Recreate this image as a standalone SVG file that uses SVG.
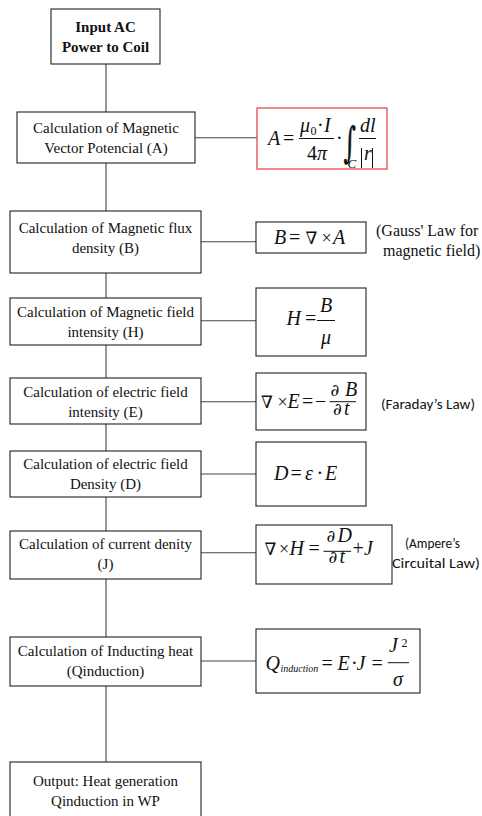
<svg xmlns="http://www.w3.org/2000/svg" width="482" height="816" viewBox="0 0 482 816">
<style>
.box{fill:#fff;stroke:#222;stroke-width:1.1}
.red{fill:#fff;stroke:#e84a4a;stroke-width:1.3}
.t{font-family:"Liberation Serif","Times New Roman",serif;font-size:15px;fill:#111;text-anchor:middle}
.tb{font-family:"Liberation Serif","Times New Roman",serif;font-size:15px;font-weight:bold;fill:#111;text-anchor:middle}
.side{font-family:"Liberation Serif","Times New Roman",serif;font-size:16px;fill:#111}
.cal{font-family:Carlito,Lato,"Open Sans",sans-serif;font-size:15px;fill:#111}
.mi{font-family:"Liberation Serif","Times New Roman",serif;font-style:italic;font-size:20px;fill:#111}
.mo{font-family:"Liberation Serif","DejaVu Serif",serif;font-size:20px;fill:#111}
.sy{font-family:"DejaVu Serif",serif;font-size:17px;fill:#111}
.sm{font-size:13px}
.fl{stroke:#111;stroke-width:1}
.c line{stroke:#444;stroke-width:1.1}
</style>

<g id="connectors" class="c">
<line x1="106" y1="64" x2="106" y2="112"/>
<line x1="106" y1="163" x2="106" y2="211"/>
<line x1="106" y1="273" x2="106" y2="298"/>
<line x1="106" y1="345" x2="106" y2="378"/>
<line x1="106" y1="424" x2="106" y2="451"/>
<line x1="106" y1="497" x2="106" y2="531"/>
<line x1="106" y1="579" x2="106" y2="637"/>
<line x1="106" y1="686" x2="106" y2="762"/>
<line x1="195" y1="137.7" x2="257" y2="137.7"/>
<line x1="201" y1="241.7" x2="256" y2="241.7"/>
<line x1="201" y1="320.7" x2="256" y2="320.7"/>
<line x1="201" y1="401.7" x2="256" y2="401.7"/>
<line x1="201" y1="474" x2="256" y2="474"/>
<line x1="201" y1="552.7" x2="256" y2="552.7"/>
<line x1="201" y1="661" x2="256" y2="661"/>
</g>

<g id="input">
<rect class="box" x="51" y="9" width="109" height="55"/>
<text class="tb" x="105.5" y="32">Input AC</text>
<text class="tb" x="105.5" y="52">Power to Coil</text>
</g>

<g id="calcA">
<rect class="box" x="17" y="112" width="178" height="51"/>
<text class="t" x="106" y="132.7">Calculation of Magnetic</text>
<text class="t" x="106" y="152.7">Vector Potencial (A)</text>
</g>

<g id="calcB">
<rect class="box" x="10" y="211" width="191" height="62"/>
<text class="t" x="105.5" y="232.7">Calculation of Magnetic flux</text>
<text class="t" x="105.5" y="252.7">density (B)</text>
</g>

<g id="calcH">
<rect class="box" x="10" y="298" width="191" height="47"/>
<text class="t" x="105.5" y="316.7">Calculation of Magnetic field</text>
<text class="t" x="105.5" y="336.7">intensity (H)</text>
</g>

<g id="calcE">
<rect class="box" x="10" y="378" width="191" height="46"/>
<text class="t" x="105.5" y="396.7">Calculation of electric field</text>
<text class="t" x="105.5" y="416.7">intensity (E)</text>
</g>

<g id="calcD">
<rect class="box" x="10" y="451" width="191" height="46"/>
<text class="t" x="105.5" y="469.3">Calculation of electric field</text>
<text class="t" x="105.5" y="489.3">Density (D)</text>
</g>

<g id="calcJ">
<rect class="box" x="10" y="531" width="191" height="48"/>
<text class="t" x="105.5" y="549">Calculation of current denity</text>
<text class="t" x="105.5" y="568.7">(J)</text>
</g>

<g id="calcQ">
<rect class="box" x="10" y="637" width="191" height="49"/>
<text class="t" x="105.5" y="656">Calculation of Inducting heat</text>
<text class="t" x="105.5" y="676">(Qinduction)</text>
</g>

<g id="output">
<rect class="box" x="10" y="762" width="191" height="60"/>
<text class="t" x="105.5" y="785.7">Output: Heat generation</text>
<text class="t" x="105.5" y="805.7">Qinduction in WP</text>
</g>

<g id="eqA">
<rect class="red" x="257" y="108" width="130" height="61"/>
<text class="mi" x="268" y="145">A</text>
<text class="mo" x="283" y="145">=</text>
<line class="fl" x1="299" y1="138.5" x2="334" y2="138.5"/>
<text class="mi" x="300" y="132">μ</text>
<text class="mo" x="310.5" y="135" style="font-size:12px">0</text>
<text class="mo" x="317" y="132">·</text>
<text class="mi" x="324" y="132">I</text>
<text class="mo" x="307" y="160">4</text>
<text class="mi" x="317" y="160">π</text>
<text class="mo" x="336" y="145">·</text>
<text class="sy" transform="translate(343.5,157) scale(0.85,1.5)" style="font-size:28px;stroke:#111;stroke-width:0.35">∫</text>
<text class="mi sm" x="347.5" y="167.5">C</text>
<text class="mi" x="360" y="132">dl</text>
<line class="fl" x1="359" y1="138.5" x2="376" y2="138.5"/>
<line class="fl" x1="361.5" y1="148" x2="361.5" y2="168"/>
<line class="fl" x1="372.5" y1="148" x2="372.5" y2="168"/>
<text class="mi" x="364" y="160">r</text>
</g>

<g id="eqB">
<rect class="box" x="256" y="222" width="110" height="31"/>
<text class="mi" x="274" y="243.5">B</text>
<text class="mo" x="289" y="243.5">=</text>
<text class="sy" x="305.5" y="243.5">∇</text>
<text class="mo" x="321.5" y="243.5" style="font-size:18px">×</text>
<text class="mi" x="333" y="243.5">A</text>
</g>
<text class="side" x="376" y="235.7">(Gauss' Law for</text>
<text class="side" x="383" y="255.7">magnetic field)</text>

<g id="eqH">
<rect class="box" x="256" y="288" width="110" height="68"/>
<text class="mi" x="286.5" y="325">H</text>
<text class="mo" x="305" y="325">=</text>
<line class="fl" x1="317" y1="320.5" x2="335" y2="320.5"/>
<text class="mi" x="320" y="311.5">B</text>
<text class="mi" x="321" y="344">μ</text>
</g>

<g id="eqE">
<rect class="box" x="256" y="373" width="110" height="57"/>
<text class="sy" x="261" y="408">∇</text>
<text class="mo" x="277.5" y="408" style="font-size:18px">×</text>
<text class="mi" x="287.5" y="408">E</text>
<text class="mo" x="302" y="408">=</text>
<text class="mo" x="315" y="408">−</text>
<line class="fl" x1="329.5" y1="401.7" x2="356" y2="401.7"/>
<text class="sy" x="330.5" y="395.5">∂</text>
<text class="mi" x="345" y="395.5">B</text>
<text class="sy" x="333" y="415">∂</text>
<text class="mi" x="344" y="415">t</text>
</g>
<text class="cal" x="381" y="408.5" textLength="94" lengthAdjust="spacingAndGlyphs">(Faraday’s Law)</text>

<g id="eqD">
<rect class="box" x="256" y="442" width="110" height="64"/>
<text class="mi" x="274" y="480">D</text>
<text class="mo" x="290.5" y="480">=</text>
<text class="mi" x="305" y="480">ε</text>
<text class="mo" x="316.5" y="480">·</text>
<text class="mi" x="325" y="480">E</text>
</g>

<g id="eqJ">
<rect class="box" x="256" y="525" width="136" height="59"/>
<text class="sy" x="264.5" y="555">∇</text>
<text class="mo" x="279" y="555" style="font-size:18px">×</text>
<text class="mi" x="289.5" y="555">H</text>
<text class="mo" x="308.5" y="555">=</text>
<line class="fl" x1="323.5" y1="551.3" x2="351" y2="551.3"/>
<text class="sy" x="326.5" y="542">∂</text>
<text class="mi" x="337.5" y="542">D</text>
<text class="sy" x="328.5" y="562.5">∂</text>
<text class="mi" x="339.5" y="562.5">t</text>
<text class="mo" x="352.5" y="555">+</text>
<text class="mi" x="364" y="555">J</text>
</g>
<text class="cal" x="405" y="548" textLength="55" lengthAdjust="spacingAndGlyphs">(Ampere’s</text>
<text class="cal" x="392" y="567.5" textLength="88" lengthAdjust="spacingAndGlyphs">Circuital Law)</text>

<g id="eqQ">
<rect class="box" x="256" y="629" width="164" height="64"/>
<text class="mi" x="265.5" y="670">Q</text>
<text class="mi" x="280.5" y="671.5" style="font-size:10px">induction</text>
<text class="mo" x="321.5" y="670">=</text>
<text class="mi" x="337.5" y="670">E</text>
<text class="mo" x="351" y="670">·</text>
<text class="mi" x="356.5" y="670">J</text>
<text class="mo" x="371.5" y="670">=</text>
<line class="fl" x1="387.7" y1="662.7" x2="409" y2="662.7"/>
<text class="mi" x="389" y="652.3">J</text>
<text class="mo" x="401.5" y="646.5" style="font-size:12px">2</text>
<text class="mi" x="393" y="686">σ</text>
</g>
</svg>
